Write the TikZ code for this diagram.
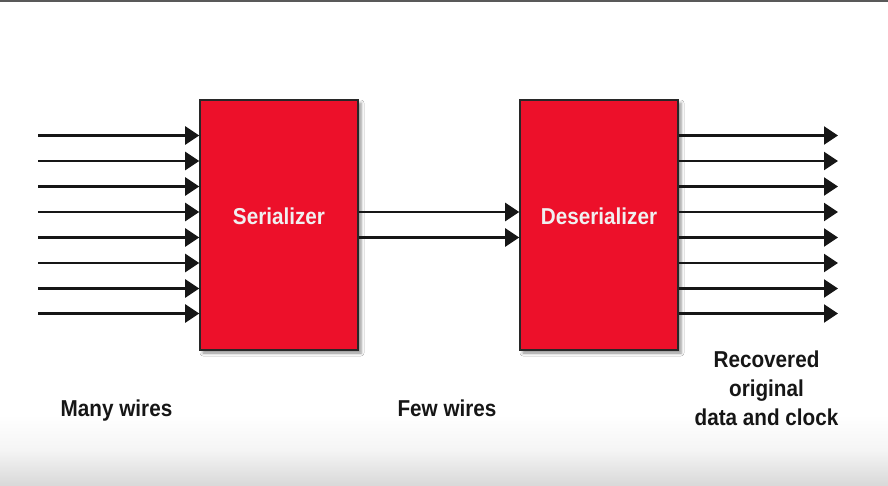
\documentclass[tikz,border=0pt]{standalone}
\usepackage{fontspec}
\newfontfamily\condsans[FakeStretch=0.9]{Liberation Sans}
\usetikzlibrary{arrows.meta,shadows.blur}
\definecolor{boxred}{RGB}{237,16,42}
\definecolor{ink}{RGB}{22,22,22}
\definecolor{edge}{RGB}{40,40,40}
\begin{document}
\begin{tikzpicture}[x=1pt,y=-1pt,
  blockbox/.style={draw=edge, line width=1.6pt, fill=boxred, minimum width=158pt, minimum height=250pt, inner sep=0pt,
    blur shadow={shadow xshift=3pt, shadow yshift=-3pt, shadow blur radius=3pt, shadow opacity=45}},
  boxtext/.style={text=white!94!black, font=\condsans\bfseries\fontsize{23pt}{28pt}\selectfont, inner sep=0pt},
  labeltext/.style={text=ink, font=\condsans\bfseries\fontsize{23pt}{29pt}\selectfont, inner sep=0pt, align=center},
  wire/.style={draw=ink, line width=2.4pt, -{Triangle[length=14pt,width=18pt]}}]
\useasboundingbox (0,0) rectangle (888,485);
\fill[white] (0,0) rectangle (888,485);
\shade[top color=white, bottom color=black!15, middle color=black!4] (0,415) rectangle (888,485);
\fill[black!65] (0,0) rectangle (888,2);

\node[blockbox] (ser) at (279,225) {};
\node[blockbox] (des) at (599,225) {};
\node[boxtext] (sertxt) at ([yshift=8.5pt]ser.center) {Serializer};
\node[boxtext] (destxt) at ([yshift=8.5pt]des.center) {Deserializer};

\foreach \i/\y in {1/135.5,2/161,3/186.5,4/212,5/237.5,6/263,7/288.5,8/313.5}{
  \coordinate (in\i) at (38,\y);
  \coordinate (out\i) at (838,\y);
  \draw[wire] (in\i) -- (ser.west |- in\i);
  \draw[wire] (des.east |- out\i) -- (out\i);
}
\draw[wire] (ser.east |- in4) -- (des.west |- in4);
\draw[wire] (ser.east |- in5) -- (des.west |- in5);

\node[labeltext, anchor=base] (many) at (116.5,416) {Many wires};
\node[labeltext, anchor=base] (few) at (447,416) {Few wires};
\node[labeltext, anchor=base] (rec) at (766.5,425) {Recovered\\original\\data and clock};
\end{tikzpicture}
\end{document}
